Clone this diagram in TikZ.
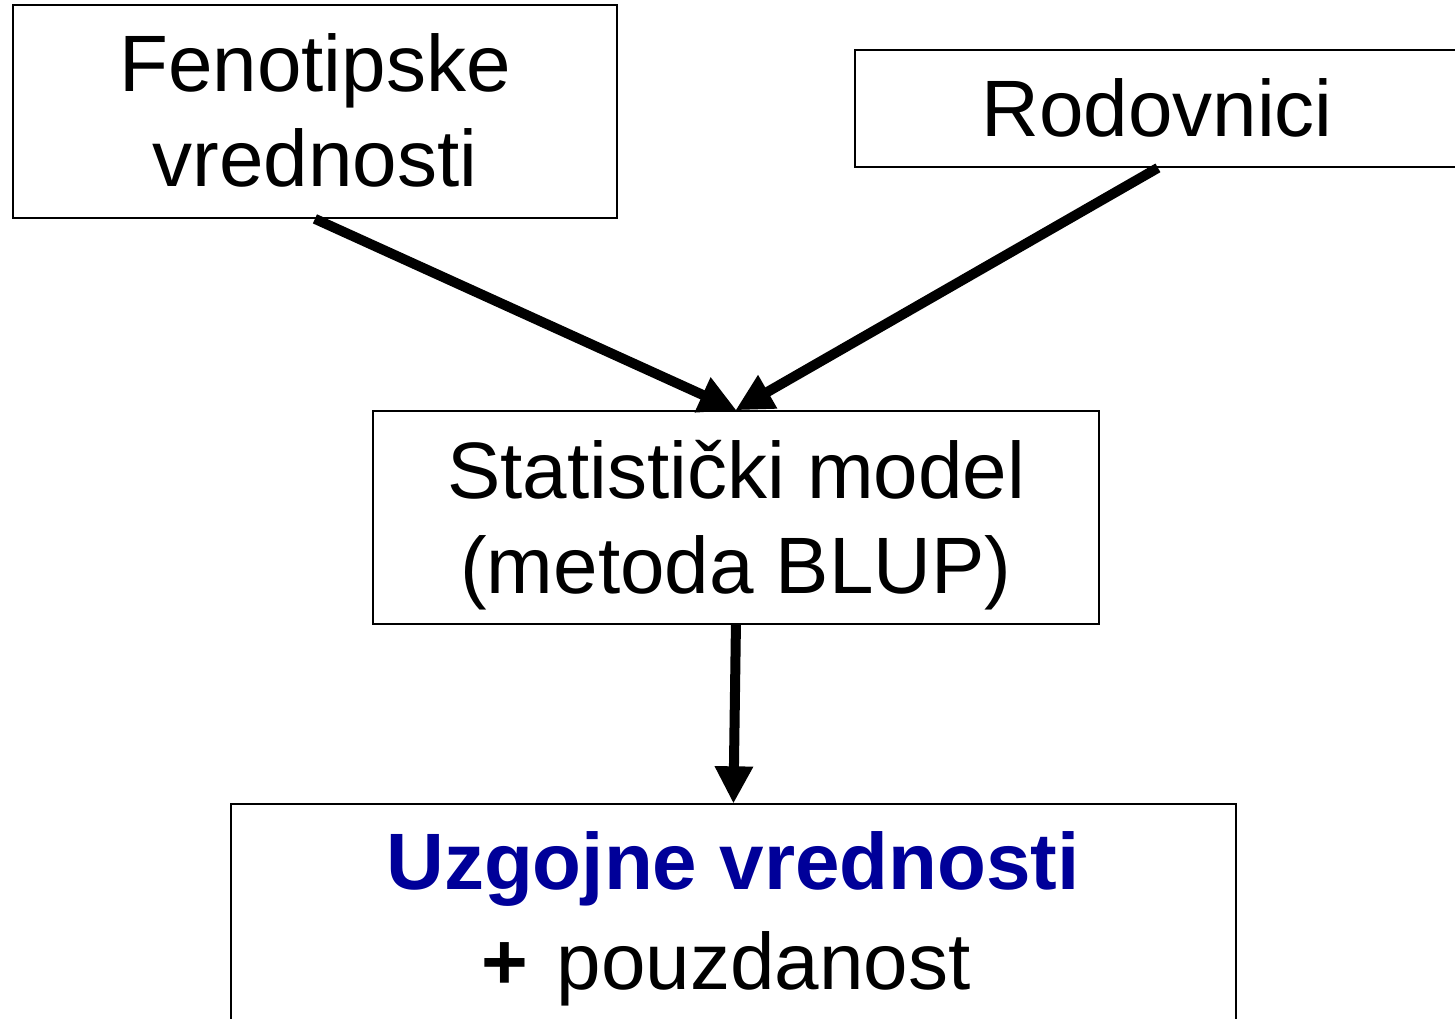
\documentclass[tikz,border=0pt]{standalone}
\usepackage{fontspec}
\setmainfont{Liberation Sans}
\usetikzlibrary{arrows.meta}
\definecolor{uzblue}{RGB}{0,0,153}
\tikzset{
  box/.style={draw=black, line width=1.4pt, fill=white, inner sep=0pt, anchor=north west},
  txt/.style={anchor=base, inner sep=0pt, font=\fontsize{60}{72}\selectfont},
  flow/.style={line width=7.5pt, -{Triangle[length=28pt, width=27pt]}, shorten >=-0.5pt}
}
\begin{document}
\begin{tikzpicture}[x=0.75pt, y=-0.75pt]
  \useasboundingbox (0,0) rectangle (1455,1019);
  % boxes
  \node[box, minimum width=604*0.75pt, minimum height=213*0.75pt] (fen) at (12,4) {};
  \node[box, minimum width=606*0.75pt, minimum height=117*0.75pt] (rod) at (854,49) {};
  \node[box, minimum width=726*0.75pt, minimum height=213*0.75pt] (stat) at (372,410) {};
  \node[box, minimum width=1005*0.75pt, minimum height=300*0.75pt] (uzg) at (230,803) {};
  % texts
  \node[txt] (fen1) at (315,92) {Fenotipske};
  \node[txt] (fen2) at (315,187) {vrednosti};
  \node[txt] (rod1) at (1157,137) {Rodovnici};
  \node[txt] (stat1) at (736,498) {Statistički model};
  \node[txt] (stat2) at (736,593) {(metoda BLUP)};
  \node[txt, text=uzblue, font=\fontsize{60}{72}\selectfont\bfseries] (uzg1) at (733,889) {Uzgojne vrednosti};
  \node[txt] (uzg2) at (726,989) {\textbf{+}\hspace{0.08em} pouzdanost};
  % connectors
  \draw[flow] (fen.south) -- (stat.north);
  \draw[flow] (rod.south) -- (stat.north);
  \draw[flow] (stat.south) -- (uzg.north);
\end{tikzpicture}
\end{document}
